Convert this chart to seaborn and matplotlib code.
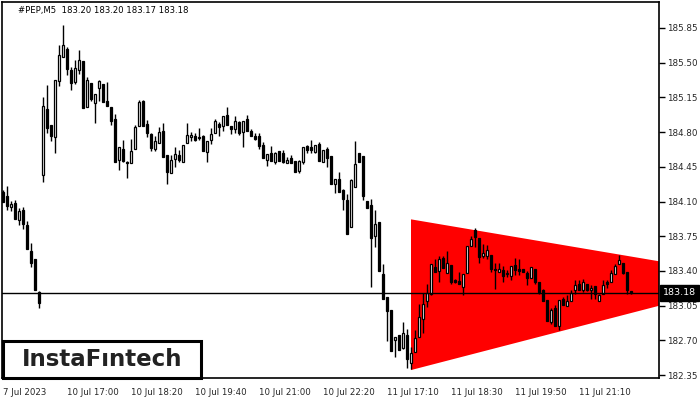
import numpy as np
import pandas as pd
import seaborn as sns
import matplotlib
matplotlib.use("Agg")
import matplotlib.pyplot as plt
from matplotlib.patches import Polygon, Rectangle

# PEP M5 candles
opens = [184.20, 184.16, 184.04, 184.08, 183.91, 184.01, 183.86, 183.60, 183.52, 183.19,
         184.37, 185.03, 184.87, 184.75, 185.32, 185.56, 185.64, 185.43, 185.31, 185.43,
         185.52, 185.05, 185.30, 185.09, 185.24, 185.29, 185.11, 185.05, 184.93, 184.52,
         184.63, 184.50, 184.49, 184.63, 184.86, 185.11, 184.88, 184.78, 184.63, 184.69,
         184.81, 184.57, 184.39, 184.53, 184.57, 184.50, 184.69, 184.75, 184.76, 184.75,
         184.76, 184.60, 184.72, 184.79, 184.88, 184.86, 184.97, 184.86, 184.83, 184.90,
         184.80, 184.93, 184.81, 184.76, 184.76, 184.67, 184.52, 184.59, 184.50, 184.61,
         184.59, 184.49, 184.54, 184.51, 184.41, 184.50, 184.66, 184.65, 184.60, 184.68,
         184.50, 184.63, 184.56, 184.28, 184.33, 184.22, 184.12, 183.84, 184.25, 184.59,
         184.56, 184.11, 184.06, 183.75, 183.89, 183.37, 183.14, 183.01, 182.70, 182.75,
         182.62, 182.75, 182.47, 182.58, 182.73, 182.92, 183.10, 183.17, 183.44, 183.40,
         183.53, 183.38, 183.46, 183.31, 183.30, 183.24, 183.38, 183.65, 183.81, 183.73,
         183.55, 183.55, 183.56, 183.42, 183.39, 183.41, 183.37, 183.35, 183.46, 183.42,
         183.42, 183.38, 183.33, 183.42, 183.29, 183.21, 183.11, 182.88, 183.03, 182.84,
         183.12, 183.05, 183.10, 183.21, 183.27, 183.21, 183.27, 183.21, 183.25, 183.10,
         183.17, 183.29, 183.29, 183.37, 183.47, 183.48, 183.39, 183.20]
highs = [184.22, 184.26, 184.11, 184.12, 184.03, 184.04, 183.90, 183.68, 183.52, 183.20,
         185.15, 185.27, 184.87, 185.33, 185.68, 185.88, 185.66, 185.46, 185.53, 185.63,
         185.52, 185.36, 185.30, 185.18, 185.33, 185.29, 185.31, 185.05, 184.98, 184.65,
         184.72, 184.51, 184.73, 184.87, 185.12, 185.12, 184.92, 184.79, 184.76, 184.85,
         184.89, 184.57, 184.57, 184.65, 184.62, 184.67, 184.89, 184.80, 184.79, 184.84,
         184.77, 184.71, 184.84, 184.93, 184.90, 184.96, 185.05, 184.86, 184.96, 184.91,
         184.91, 184.97, 184.83, 184.79, 184.79, 184.70, 184.58, 184.66, 184.60, 184.61,
         184.62, 184.55, 184.57, 184.51, 184.52, 184.65, 184.67, 184.72, 184.67, 184.70,
         184.62, 184.65, 184.56, 184.33, 184.40, 184.23, 184.18, 184.33, 184.71, 184.59,
         184.56, 184.11, 184.13, 184.01, 183.89, 183.47, 183.14, 183.01, 182.73, 182.75,
         182.88, 182.81, 182.63, 182.80, 183.07, 183.18, 183.27, 183.47, 183.52, 183.55,
         183.55, 183.60, 183.46, 183.32, 183.39, 183.37, 183.65, 183.75, 183.83, 183.73,
         183.67, 183.66, 183.56, 183.48, 183.48, 183.45, 183.41, 183.45, 183.53, 183.52,
         183.42, 183.40, 183.44, 183.42, 183.29, 183.22, 183.11, 183.03, 183.06, 183.11,
         183.14, 183.16, 183.21, 183.31, 183.31, 183.32, 183.27, 183.26, 183.25, 183.17,
         183.31, 183.31, 183.41, 183.47, 183.56, 183.48, 183.39, 183.20]
lows = [184.09, 184.01, 184.00, 183.92, 183.86, 183.82, 183.62, 183.44, 183.21, 183.03,
        184.30, 184.79, 184.71, 184.59, 185.26, 185.56, 185.38, 185.22, 185.28, 185.39,
        185.04, 185.05, 185.11, 184.89, 185.11, 185.10, 185.06, 184.87, 184.50, 184.42,
        184.50, 184.34, 184.49, 184.63, 184.86, 184.86, 184.75, 184.61, 184.61, 184.69,
        184.55, 184.28, 184.39, 184.45, 184.50, 184.50, 184.69, 184.71, 184.71, 184.72,
        184.61, 184.50, 184.68, 184.79, 184.76, 184.81, 184.87, 184.78, 184.79, 184.77,
        184.65, 184.81, 184.76, 184.72, 184.63, 184.54, 184.46, 184.51, 184.48, 184.51,
        184.49, 184.49, 184.49, 184.40, 184.39, 184.48, 184.59, 184.59, 184.59, 184.51,
        184.50, 184.45, 184.28, 184.19, 184.20, 184.01, 183.77, 183.84, 184.25, 184.50,
        184.12, 184.03, 183.24, 183.64, 183.40, 183.12, 182.69, 182.59, 182.53, 182.60,
        182.61, 182.42, 182.41, 182.58, 182.73, 182.77, 183.04, 183.16, 183.39, 183.29,
        183.43, 183.38, 183.27, 183.28, 183.27, 183.16, 183.38, 183.65, 183.64, 183.48,
        183.53, 183.52, 183.39, 183.22, 183.39, 183.29, 183.34, 183.31, 183.36, 183.36,
        183.39, 183.26, 183.33, 183.27, 183.17, 183.10, 182.89, 182.86, 182.84, 182.80,
        183.06, 183.05, 183.10, 183.17, 183.21, 183.19, 183.20, 183.12, 183.12, 183.10,
        183.17, 183.23, 183.29, 183.37, 183.47, 183.37, 183.17, 183.17]
closes = [184.09, 184.05, 184.07, 183.92, 184.00, 183.87, 183.62, 183.48, 183.21, 183.08,
          185.06, 184.84, 184.76, 185.33, 185.58, 185.68, 185.44, 185.30, 185.45, 185.53,
          185.04, 185.33, 185.13, 185.18, 185.32, 185.10, 185.06, 184.91, 184.50, 184.65,
          184.51, 184.49, 184.61, 184.85, 185.10, 184.86, 184.79, 184.64, 184.71, 184.80,
          184.55, 184.40, 184.52, 184.58, 184.52, 184.67, 184.77, 184.77, 184.72, 184.74,
          184.61, 184.71, 184.78, 184.91, 184.85, 184.96, 184.87, 184.83, 184.91, 184.79,
          184.91, 184.81, 184.76, 184.73, 184.66, 184.54, 184.58, 184.51, 184.59, 184.51,
          184.50, 184.52, 184.49, 184.40, 184.51, 184.65, 184.62, 184.62, 184.67, 184.51,
          184.62, 184.54, 184.28, 184.33, 184.20, 184.13, 183.77, 184.32, 184.48, 184.50,
          184.16, 184.03, 183.73, 183.87, 183.40, 183.12, 183.00, 182.59, 182.73, 182.60,
          182.77, 182.51, 182.57, 182.72, 182.94, 183.07, 183.18, 183.47, 183.39, 183.52,
          183.43, 183.48, 183.29, 183.29, 183.27, 183.37, 183.65, 183.72, 183.74, 183.54,
          183.58, 183.61, 183.42, 183.41, 183.42, 183.35, 183.37, 183.45, 183.41, 183.40,
          183.39, 183.33, 183.44, 183.29, 183.19, 183.10, 182.89, 183.01, 182.84, 183.11,
          183.06, 183.10, 183.18, 183.26, 183.21, 183.29, 183.21, 183.23, 183.17, 183.16,
          183.26, 183.27, 183.38, 183.45, 183.51, 183.38, 183.21, 183.18]

tick_pos = [0, 16, 32, 48, 64, 80, 96, 112, 128, 144]
tick_labels = ["7 Jul 2023", "10 Jul 17:00", "10 Jul 18:20", "10 Jul 19:40", "10 Jul 21:00",
               "10 Jul 22:20", "11 Jul 17:10", "11 Jul 18:30", "11 Jul 19:50", "11 Jul 21:10"]
y_ticks = [185.85, 185.50, 185.15, 184.80, 184.45, 184.10, 183.75, 183.40, 183.05, 182.70, 182.35]

# bearish symmetrical triangle (left edge top, left edge bottom, apex)
tri_x = [102, 102, 190]
tri_y = [183.92, 182.40, 183.32]

last_price = 183.18

df = pd.DataFrame({"open": opens, "high": highs, "low": lows, "close": closes})
df["bar"] = np.arange(len(df))
df["up"] = df["close"] >= df["open"]
df["hi"] = df[["high", "open", "close"]].max(axis=1)
df["lo"] = df[["low", "open", "close"]].min(axis=1)

sns.set_style("white")
plt.rcParams["font.family"] = ["DejaVu Sans"]

fig = plt.figure(figsize=(7, 4), dpi=100)
ax = fig.add_axes([2 / 700, 22 / 400, 657 / 700, 376 / 400])

ax.add_patch(Polygon(list(zip(tri_x, tri_y)), closed=True, facecolor="#ff0000",
                     edgecolor="none", zorder=1))

ax.vlines(df["bar"], df["lo"], df["hi"], color="black", linewidth=1, zorder=3)
body_h = (df["close"] - df["open"]).abs().clip(lower=0.004)
ax.bar(df["bar"], body_h, bottom=df[["open", "close"]].min(axis=1), width=0.7,
       color=np.where(df["up"], "white", "black"), edgecolor="black", linewidth=0.9, zorder=4)

ax.axhline(last_price, color="black", linewidth=1, zorder=5)

ax.set_xlim(-0.25, 164)
ax.set_ylim(182.32, 186.112)

ax.yaxis.tick_right()
ax.set_yticks(y_ticks)
ax.set_yticklabels([f"{v:.2f}" for v in y_ticks], fontsize=6.3)
ax.set_xticks(tick_pos)
ax.set_xticklabels(tick_labels, fontsize=6.2, ha="left")
ax.tick_params(axis="both", direction="out", length=4, width=1, color="black", pad=2)
ax.tick_params(axis="x", pad=3)
for s in ax.spines.values():
    s.set_visible(True)
    s.set_color("black")
    s.set_linewidth(1.2)

ax.text(1.006, last_price, f"{last_price:.2f}", transform=ax.get_yaxis_transform(),
        ha="left", va="center", fontsize=6.8, color="white", zorder=6,
        bbox=dict(boxstyle="square,pad=0.35", facecolor="black", edgecolor="black"),
        clip_on=False)

fig.text(18 / 700, 389 / 400, "#PEP,M5  183.20 183.20 183.17 183.18", fontsize=6.1,
         color="black", ha="left", va="center")

fig.add_artist(Rectangle((3 / 700, 22 / 400), 198 / 700, 37 / 400, transform=fig.transFigure,
                         facecolor="white", edgecolor="black", linewidth=2.2, zorder=10))
fig.text(102 / 700, 41 / 400, "InstaF\u0131ntech", fontsize=16.5, fontweight="semibold",
         color="#222222", ha="center", va="center", zorder=11)

fig.savefig("out.png", dpi=100)
